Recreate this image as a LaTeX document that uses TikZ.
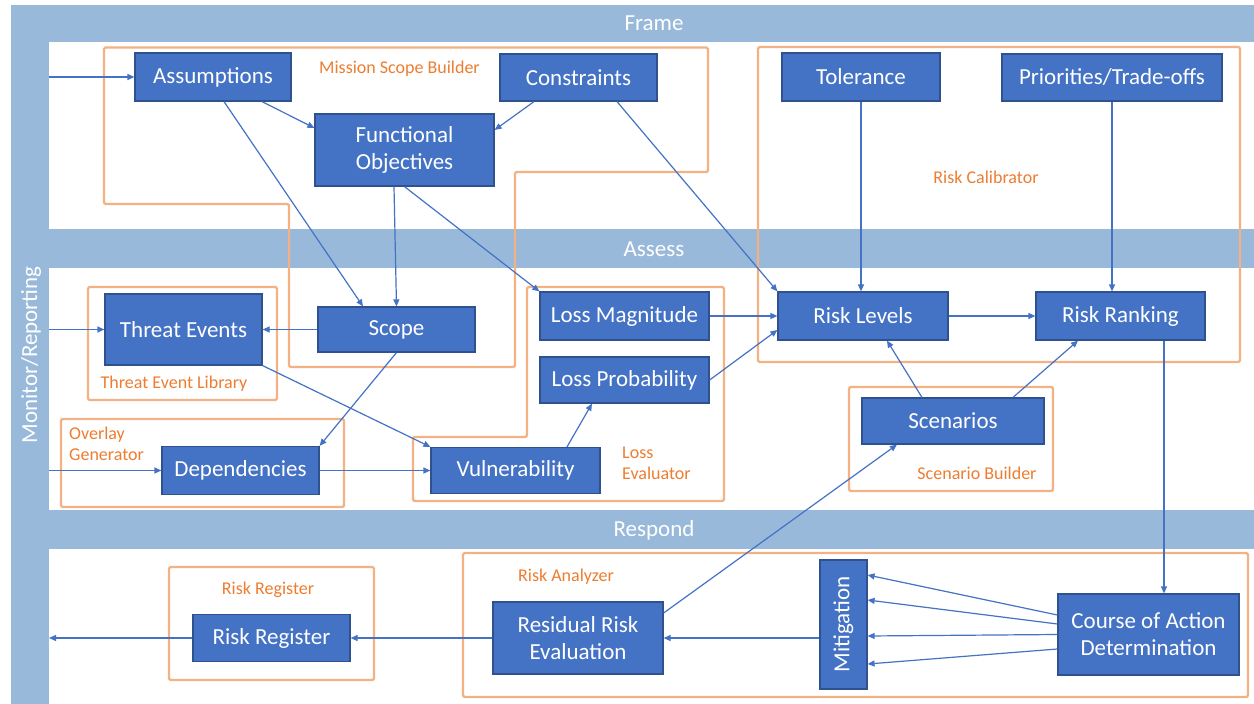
\documentclass[tikz,border=0pt]{standalone}
\usepackage{fontspec}
\usepackage{graphicx}
\setmainfont{Carlito}
\usetikzlibrary{arrows.meta,calc}
\definecolor{bandblue}{RGB}{152,185,217}
\definecolor{boxfill}{HTML}{4472C4}
\definecolor{boxedge}{HTML}{2F528F}
\definecolor{linkblue}{HTML}{4472C4}
\definecolor{grpline}{HTML}{F4B183}
\definecolor{grptext}{HTML}{ED7D31}

\begin{document}
\begin{tikzpicture}[x=1pt,y=-1pt,
  proc/.style={draw=boxedge, fill=boxfill, line width=1.2pt, text=white,
    font=\fontsize{23}{27}\selectfont, inner sep=2pt, align=center},
  grp/.style={draw=grpline, line width=2.2pt, rounded corners=1.5pt},
  grplabel/.style={text=grptext, font=\fontsize{18}{21}\selectfont, inner sep=0pt, align=left},
  bandlabel/.style={text=white, font=\fontsize{23}{27}\selectfont, inner sep=0pt},
  link/.style={draw=linkblue, line width=1.2pt, -{Triangle[length=7pt,width=6pt]}},
]
% page and swimlane frame
\useasboundingbox (0,0) rectangle (1254,704);
\fill[white] (0,0) rectangle (1254,704);
\fill[bandblue] (11,5) rectangle (1254,704);
\fill[white] (49,42) rectangle (1254,229);
\fill[white] (49,268) rectangle (1254,510);
\fill[white] (49,549) rectangle (1254,704);

\node[bandlabel] (lblframe) at (654,23) {Frame};
\node[bandlabel] (lblassess) at (654,249) {Assess};
\node[bandlabel] (lblrespond) at (654,530) {Respond};
\node[bandlabel, rotate=90] (lblmonitor) at (31,355) {Monitor/Reporting};

% component outlines
\draw[grp] (104,47.5) -- (708,47.5) -- (708,172) -- (515,172) -- (515,367)
  -- (289,367) -- (289,204) -- (104,204) -- cycle;
\draw[grp] (527,287) -- (724,287) -- (724,501) -- (413,501) -- (413,437)
  -- (527,437) -- cycle;
\draw[grp] (758,47) rectangle (1240,362);
\draw[grp] (88,287) rectangle (277,400);
\draw[grp] (61,419) rectangle (344,507);
\draw[grp] (849,387) rectangle (1053,491);
\draw[grp] (169,567) rectangle (374,680);
\draw[grp] (463,553) rectangle (1248,697);

\node[grplabel, anchor=west] (gmission) at (319,69) {Mission Scope Builder};
\node[grplabel] (gcalib) at (986,177) {Risk Calibrator};
\node[grplabel] (gthreat) at (174,384) {Threat Event Library};
\node[grplabel, anchor=west] (goverlay) at (69,444) {Overlay\\Generator};
\node[grplabel, anchor=west] (gloss) at (622,463) {Loss\\Evaluator};
\node[grplabel] (gscen) at (977,473) {Scenario Builder};
\node[grplabel] (greg) at (268,590) {Risk Register};
\node[grplabel] (ganal) at (566,577) {Risk Analyzer};

% process boxes
\node[proc, minimum width=156pt, minimum height=48pt] (assump) at (213,77) {Assumptions};
\node[proc, minimum width=179pt, minimum height=72pt] (funcobj) at (404.5,150) {Functional\\Objectives};
\node[proc, minimum width=157pt, minimum height=47pt] (constr) at (578.5,77.5) {Constraints};
\node[proc, minimum width=158pt, minimum height=48pt] (toler) at (861,77) {Tolerance};
\node[proc, minimum width=220pt, minimum height=47pt] (prior) at (1112,77.5) {Priorities/Trade-offs};
\node[proc, minimum width=157pt, minimum height=71pt] (threat) at (183.5,329.5) {Threat Events};
\node[proc, minimum width=157pt, minimum height=45pt] (scope) at (396.5,329.5) {Scope};
\node[proc, minimum width=157pt, minimum height=48pt] (depend) at (240.5,470.5) {Dependencies};
\node[proc, minimum width=169pt, minimum height=48pt] (lossmag) at (624.5,316) {Loss Magnitude};
\node[proc, minimum width=169pt, minimum height=46pt] (lossprob) at (624.5,380) {Loss Probability};
\node[proc, minimum width=169pt, minimum height=46pt] (vuln) at (515.5,470.5) {Vulnerability};
\node[proc, minimum width=170pt, minimum height=48pt] (risklev) at (863,316) {Risk Levels};
\node[proc, minimum width=169pt, minimum height=48pt] (riskrank) at (1120.5,316) {Risk Ranking};
\node[proc, minimum width=182pt, minimum height=46pt] (scen) at (953,421) {Scenarios};
\node[proc, minimum width=157pt, minimum height=47pt] (riskreg) at (271.5,638) {Risk Register};
\node[proc, minimum width=170pt, minimum height=72pt] (resid) at (578,638) {Residual Risk\\Evaluation};
\node[proc, minimum width=47pt, minimum height=129pt] (mitig) at (843.5,624.5) {\rotatebox{90}{Mitigation}};
\node[proc, minimum width=181pt, minimum height=81pt] (coa) at (1148.5,634.5) {Course of Action\\Determination};

% free ends on the left lane
\coordinate (inA) at (49,77);
\coordinate (inT) at (49,329.5);
\coordinate (inD) at (49,470.5);
\coordinate (outR) at (49,638);

% connectors
\draw[link] (inA) -- (assump.west);
\draw[link] ([xshift=49pt]assump.south) -- ([yshift=22pt]funcobj.west);
\draw[link] ([xshift=-44.5pt]constr.south) -- ([yshift=20pt]funcobj.east);
\draw[link] ([xshift=11pt]assump.south) -- ([xshift=-33.5pt]scope.north);
\draw[link] ([xshift=-10.5pt]funcobj.south) -- (scope.north);
\draw[link] (funcobj.south) -- (lossmag.north west);
\draw[link] ([xshift=38.5pt]constr.south) -- (risklev.north west);
\draw[link] (toler.south) -- (toler.south |- risklev.north);
\draw[link] (prior.south) -- (prior.south |- riskrank.north);
\draw[link] (lossmag.east) -- (risklev.west);
\draw[link] (lossprob.east) -- ([yshift=-14pt]risklev.west);
\draw[link] (risklev.east) -- (riskrank.west);
\draw[link] ([xshift=-31pt]scen.north) -- ([xshift=24pt]risklev.south);
\draw[link] ([xshift=60pt]scen.north) -- ([xshift=-42.5pt]riskrank.south);
\draw[link] (scope.west) -- (threat.east);
\draw[link] (inT) -- (threat.west);
\draw[link] (scope.south) -- (depend.north east);
\draw[link] (threat.south east) -- (vuln.north west);
\draw[link] (inD) -- (depend.west);
\draw[link] (depend.east) -- (vuln.west);
\draw[link] ([xshift=51.5pt]vuln.north) -- ([xshift=-32.5pt]lossprob.south);
\draw[link] ([xshift=43.5pt]riskrank.south) -- ([xshift=43.5pt]riskrank.south |- coa.north);
\draw[link] ([yshift=19.5pt]coa.west) -- ([yshift=49.5pt]mitig.east);
\draw[link] ([yshift=10.5pt]coa.west) -- ([yshift=24.5pt]mitig.east);
\draw[link] (coa.west) -- ([yshift=-11.5pt]mitig.east);
\draw[link] ([yshift=-14.5pt]coa.west) -- ([yshift=-39.5pt]mitig.east);
\draw[link] (mitig.west |- resid.east) -- (resid.east);
\draw[link] (resid.west) -- (riskreg.east);
\draw[link] (riskreg.west) -- (outR);
\draw[link] ([yshift=25pt]resid.east) -- ([xshift=-56pt]scen.south);
\end{tikzpicture}
\end{document}
